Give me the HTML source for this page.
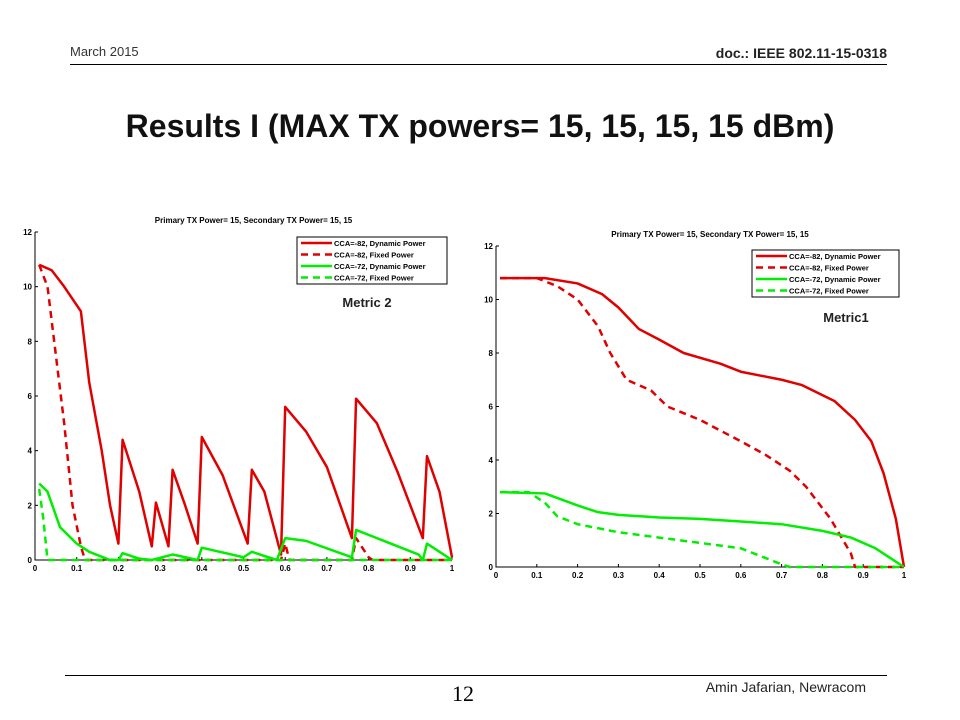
<!DOCTYPE html>
<html><head><meta charset="utf-8">
<style>
body{margin:0;width:960px;height:720px;background:#fff;overflow:hidden;font-family:"Liberation Sans",sans-serif;position:relative}
.t{position:absolute;white-space:nowrap}
</style></head><body>
<div class="t" style="left:70px;top:44px;font-size:13px;color:#333">March 2015</div>
<div class="t" style="right:73px;top:45px;font-size:14px;font-weight:bold;color:#222">doc.: IEEE 802.11-15-0318</div>
<div style="position:absolute;left:70px;top:64px;width:817px;height:1px;background:#000"></div>
<div class="t" style="left:0;width:960px;text-align:center;top:108px;font-size:32px;font-weight:bold;color:#111">Results I (MAX TX powers= 15, 15, 15, 15 dBm)</div>
<div style="position:absolute;left:65px;top:675px;width:822px;height:1px;background:#000"></div>
<div class="t" style="left:452px;top:681px;font-size:22px;font-family:'Liberation Serif',serif">12</div>
<div class="t" style="right:94px;top:679px;font-size:14px;color:#222">Amin Jafarian, Newracom</div>
<svg id="svg" width="960" height="720" style="position:absolute;left:0;top:0"></svg>
<script>
const xTicks=[0,0.1,0.2,0.3,0.4,0.5,0.6,0.7,0.8,0.9,1];
const yTicks=[0,2,4,6,8,10,12];
const seriesNames=["CCA=-82, Dynamic Power","CCA=-82, Fixed Power","CCA=-72, Dynamic Power","CCA=-72, Fixed Power"];
const L_x_redDyn=[0.01,0.04,0.07,0.11,0.13,0.16,0.18,0.2,0.21,0.25,0.28,0.29,0.32,0.33,0.36,0.39,0.4,0.45,0.51,0.52,0.55,0.59,0.6,0.65,0.7,0.76,0.77,0.82,0.87,0.93,0.94,0.97,1.0];
const L_y_redDyn=[10.8,10.6,10.0,9.1,6.5,4,2,0.6,4.4,2.5,0.5,2.1,0.5,3.3,2.0,0.6,4.5,3.1,0.6,3.3,2.5,0.2,5.6,4.7,3.4,0.8,5.9,5.0,3.2,0.8,3.8,2.5,0.1];
const L_x_redFix=[0.01,0.03,0.05,0.07,0.09,0.11,0.12,0.59,0.6,0.61,0.76,0.77,0.8,0.81,1];
const L_y_redFix=[10.8,10,7.5,5,2,0.5,0,0,0.6,0,0,0.8,0.1,0,0];
const L_x_grnDyn=[0.01,0.03,0.06,0.1,0.13,0.18,0.2,0.21,0.25,0.28,0.33,0.36,0.39,0.4,0.5,0.52,0.58,0.6,0.65,0.76,0.77,0.82,0.92,0.93,0.94,0.97,1];
const L_y_grnDyn=[2.8,2.5,1.2,0.6,0.3,0,0,0.25,0.05,0,0.2,0.1,0,0.45,0.1,0.3,0,0.8,0.7,0.1,1.1,0.8,0.2,0,0.6,0.3,0];
const L_x_grnFix=[0.01,0.02,0.03,1];
const L_y_grnFix=[2.6,1.5,0,0];
const R_x_redDyn=[0.01,0.12,0.2,0.26,0.3,0.35,0.4,0.46,0.55,0.6,0.7,0.75,0.83,0.88,0.92,0.95,0.98,1.0];
const R_y_redDyn=[10.8,10.8,10.6,10.2,9.7,8.9,8.5,8,7.6,7.3,7.0,6.8,6.2,5.5,4.7,3.5,1.8,0];
const R_x_redFix=[0.01,0.1,0.15,0.2,0.25,0.28,0.32,0.38,0.42,0.5,0.55,0.6,0.66,0.72,0.76,0.82,0.87,0.88,1];
const R_y_redFix=[10.8,10.8,10.5,10,9,8,7,6.6,6,5.5,5.1,4.7,4.2,3.6,3,1.8,0.5,0,0];
const R_x_grnDyn=[0.01,0.12,0.2,0.25,0.3,0.4,0.5,0.6,0.7,0.8,0.87,0.93,0.97,1];
const R_y_grnDyn=[2.8,2.75,2.3,2.05,1.95,1.85,1.8,1.7,1.6,1.35,1.1,0.7,0.3,0];
const R_x_grnFix=[0.01,0.08,0.12,0.15,0.2,0.3,0.4,0.5,0.6,0.65,0.7,0.72,1];
const R_y_grnFix=[2.8,2.8,2.4,1.9,1.6,1.3,1.1,0.9,0.7,0.4,0.1,0,0];

const svg=document.getElementById('svg');
const NS="http://www.w3.org/2000/svg";
function mk(tag,attrs,parent){const e=document.createElementNS(NS,tag);for(const k in attrs)e.setAttribute(k,attrs[k]);(parent||svg).appendChild(e);return e;}
const styles=[{c:"#e00000",d:""},{c:"#e00000",d:"7,5"},{c:"#00ee00",d:""},{c:"#00ee00",d:"7,5"}];
function chart(p,data,metric,mx,my,prefix){
  const g=mk('g',{});
  
  
  const sx=v=>p.x0+v*(p.x1-p.x0), sy=v=>p.y0-v/12*(p.y0-p.y1);
  const ax=mk('path',{d:`M${p.x0},${p.y1}V${p.y0}H${p.x1}`,stroke:"#000",fill:"none","stroke-width":1},g);
  
  
  xTicks.forEach(t=>{const tx=mk('text',{x:sx(t),y:p.y0+11,"font-size":8,"font-weight":"bold","text-anchor":"middle"},g);tx.textContent=t;
    
    
    mk('line',{x1:sx(t),x2:sx(t),y1:p.y0,y2:p.y0-3,stroke:"#000"},g);});
  yTicks.forEach(t=>{const tx=mk('text',{x:p.x0-3,y:sy(t)+3,"font-size":8,"font-weight":"bold","text-anchor":"end"},g);tx.textContent=t;
    
    
    mk('line',{x1:p.x0,x2:p.x0+3,y1:sy(t),y2:sy(t),stroke:"#000"},g);});
  const ti=mk('text',{x:(p.x0+p.x1)/2+10,y:p.y1-9,"font-size":8,"font-weight":"bold","text-anchor":"middle"},g);
  ti.textContent="Primary TX Power= 15, Secondary TX Power= 15, 15";
  
  
  data.forEach((s,i)=>{const pts=s[0].map((x,j)=>sx(x)+","+sy(s[1][j])).join(" ");
    const pl=mk('polyline',{points:pts,fill:"none",stroke:styles[i].c,"stroke-width":2.5,"stroke-dasharray":styles[i].d,"stroke-linejoin":"round"},g);
    
    });
  const lg=mk('g',{},g);
  
  
  mk('rect',{x:p.lx,y:p.ly,width:p.lw,height:47,fill:"#fff",stroke:"#000"},lg);
  seriesNames.forEach((n,i)=>{const yy=p.ly+6+i*11.5;
    mk('line',{x1:p.lx+4,x2:p.lx+35,y1:yy,y2:yy,stroke:styles[i].c,"stroke-width":2.5,"stroke-dasharray":styles[i].d},lg);
    const tx=mk('text',{x:p.lx+37,y:yy+3,"font-size":7.5,"font-weight":"bold"},lg);tx.textContent=n;
    
    });
  const m=mk('text',{x:mx,y:my,"font-size":13,"font-weight":"bold","text-anchor":"middle",fill:"#222"},g);m.textContent=metric;
  
  
}
chart({x0:35,x1:452,y0:560,y1:232,lx:297,ly:237,lw:150},[[L_x_redDyn,L_y_redDyn],[L_x_redFix,L_y_redFix],[L_x_grnDyn,L_y_grnDyn],[L_x_grnFix,L_y_grnFix]],"Metric 2",367,307,"metric2");
chart({x0:496,x1:904,y0:567,y1:246,lx:752,ly:250,lw:147},[[R_x_redDyn,R_y_redDyn],[R_x_redFix,R_y_redFix],[R_x_grnDyn,R_y_grnDyn],[R_x_grnFix,R_y_grnFix]],"Metric1",846,322,"metric1");
</script>
</body></html>
